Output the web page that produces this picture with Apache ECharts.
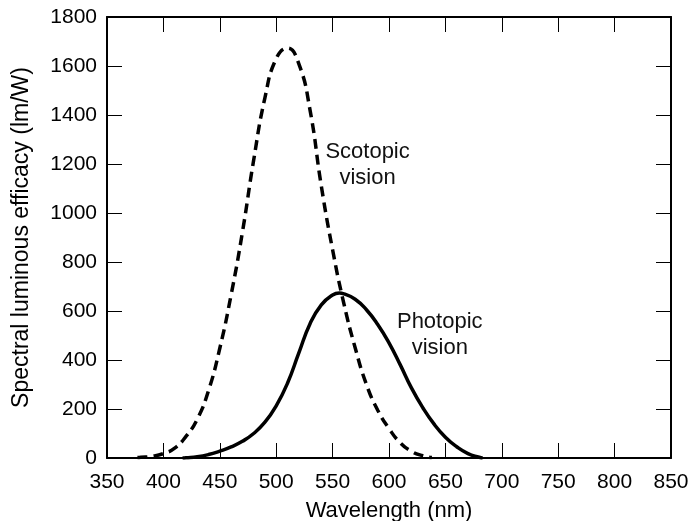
<!DOCTYPE html>
<html>
<head>
<meta charset="utf-8">
<script src="https://cdn.jsdelivr.net/npm/echarts@6/dist/echarts.min.js"></script>
<style>
  html, body { margin: 0; padding: 0; background: #fff; }
  #chart { width: 691px; height: 521px; }
</style>
</head>
<body>
<div id="chart"></div>
<script>
// wavelengths (nm) and efficacy values (lm/W)
const scotopicNm = [377, 380, 390, 400, 410, 420, 430, 440, 450, 460, 470, 480, 490, 500, 510, 520, 530, 540, 550, 560, 570, 580, 590, 600, 610, 620, 630, 638]
const scotopicVal = [2, 3, 7, 18, 40, 88, 158, 275, 448, 665, 920, 1215, 1470, 1630, 1673, 1610, 1420, 1110, 850, 630, 450, 300, 195, 120, 62, 27, 9, 2]

const photopicNm = [417, 420, 430, 440, 450, 460, 470, 480, 490, 500, 510, 520, 530, 540, 550, 556, 560, 570, 580, 590, 600, 610, 620, 630, 640, 650, 660, 670, 680, 683]
const photopicVal = [0, 1, 5, 14, 28, 45, 68, 100, 146, 213, 305, 428, 548, 625, 665, 673, 670, 648, 605, 545, 470, 380, 285, 205, 138, 85, 46, 18, 3, 0]

// annotation text and where it sits (nm, lm/W)
const notes = [
  { text: 'Scotopic\nvision', at: [581, 1196] },
  { text: 'Photopic\nvision', at: [645, 502] }
]

const xTicks = { min: 350, max: 850, interval: 50 }
const yTicks = { min: 0, max: 1800, interval: 200 }

const font = 'Liberation Sans, Arial, Helvetica, sans-serif'

const chart = echarts.init(document.getElementById('chart'))

const pairs = (xs, ys) => xs.map((x, i) => [x, ys[i]])

const boxAxis = (extra) => Object.assign({
  type: 'value',
  axisLine: { show: true, onZero: false, lineStyle: { color: '#000', width: 2 } },
  axisTick: { show: true, inside: true, length: 15, lineStyle: { color: '#000', width: 1 } },
  splitLine: { show: false },
  axisLabel: { show: false }
}, extra)

const option = {
  animation: false,
  grid: { left: 107, right: 20, top: 17, bottom: 63, outerBoundsMode: 'none', containLabel: false },
  xAxis: [
    boxAxis({
      position: 'bottom',
      min: xTicks.min, max: xTicks.max, interval: xTicks.interval,
      name: 'Wavelength (nm)',
      nameLocation: 'middle',
      nameGap: 42,
      nameTextStyle: { color: '#000', fontSize: 22, fontFamily: font },
      axisLabel: { show: true, color: '#000', fontSize: 21, fontFamily: font, margin: 14 }
    }),
    boxAxis({ position: 'top', min: xTicks.min, max: xTicks.max, interval: xTicks.interval })
  ],
  yAxis: [
    boxAxis({
      position: 'left',
      min: yTicks.min, max: yTicks.max, interval: yTicks.interval,
      name: 'Spectral luminous efficacy (lm/W)',
      nameLocation: 'middle',
      nameGap: 74,
      nameTextStyle: { color: '#000', fontSize: 23, fontFamily: font },
      axisLabel: {
        show: true, color: '#000', fontSize: 21, fontFamily: font, margin: 10,
        formatter: v => String(v)
      }
    }),
    boxAxis({ position: 'right', min: yTicks.min, max: yTicks.max, interval: yTicks.interval })
  ],
  series: [
    {
      name: 'Scotopic vision',
      type: 'line',
      smooth: 0.5,
      symbol: 'none',
      data: pairs(scotopicNm, scotopicVal),
      lineStyle: { color: '#000', width: 3.5, type: [10, 6] }
    },
    {
      name: 'Photopic vision',
      type: 'line',
      smooth: 0.5,
      symbol: 'none',
      data: pairs(photopicNm, photopicVal),
      lineStyle: { color: '#000', width: 3.5 }
    },
    {
      name: 'notes',
      type: 'scatter',
      symbolSize: 1,
      itemStyle: { color: 'rgba(0,0,0,0)', opacity: 1 },
      data: notes.map(n => ({ value: n.at, name: n.text })),
      label: {
        show: true, position: 'inside', formatter: p => p.name, color: '#111',
        fontSize: 22, fontFamily: font, lineHeight: 26, align: 'center', verticalAlign: 'middle'
      },
      silent: true
    }
  ]
}

chart.setOption(option)
</script>
</body>
</html>
